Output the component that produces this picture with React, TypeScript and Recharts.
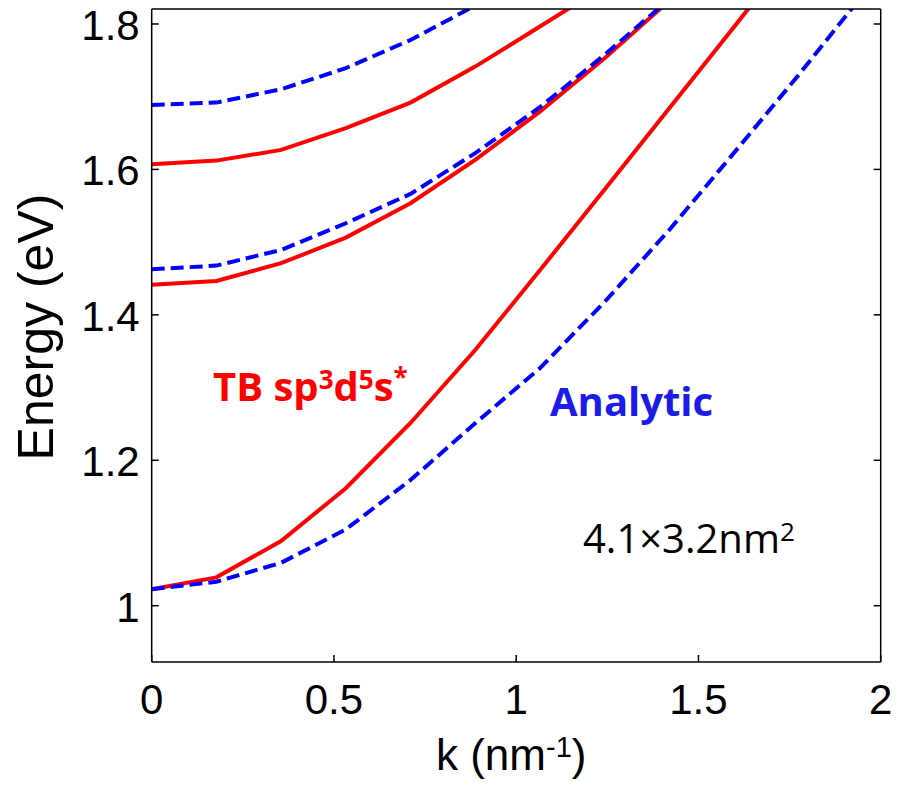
import React from "react";
import { LineChart, Line, XAxis, YAxis, Label } from "recharts";

// wave vector samples (nm^-1)
const kValues = [0, 0.1775, 0.355, 0.5325, 0.71, 0.8875, 1.065, 1.2425, 1.42, 1.5975, 1.775, 1.9525];

// TB sp3d5s* bands (eV)
const tbBand1 = [1.0226, 1.039, 1.089, 1.1615, 1.2513, 1.3517, 1.4612, 1.5725, 1.684, 1.796, 1.908];
const tbBand2 = [1.4415, 1.4466, 1.471, 1.5062, 1.5535, 1.613, 1.6795, 1.7528, 1.832];
const tbBand3 = [1.6071, 1.6121, 1.6268, 1.6567, 1.6919, 1.7414, 1.7965, 1.852];

// analytic bands (eV)
const anBand1 = [1.0226, 1.033, 1.059, 1.105, 1.1728, 1.2509, 1.3266, 1.4178, 1.5168, 1.6227, 1.73, 1.8412];
const anBand2 = [1.4627, 1.4677, 1.4893, 1.526, 1.5663, 1.6223, 1.6856, 1.7575, 1.834];
const anBand3 = [1.6887, 1.6919, 1.7103, 1.7392, 1.778, 1.8253, 1.88];

const xTicks = [0, 0.5, 1, 1.5, 2];
const yTicks = [1, 1.2, 1.4, 1.6, 1.8];

const toPoints = (vals: number[]) => vals.map((e, i) => ({ k: kValues[i], e }));

const AXIS_FONT = "'Liberation Sans', Arial, sans-serif";
const NOTE_FONT = "'Open Sans', sans-serif";
const RED = "#ff0000";
const BLUE = "#0000ff";

function BottomTick({ x, y, payload }: any) {
  return (
    <g>
      <line x1={x} x2={x} y1={y} y2={y - 7} stroke="#000" strokeWidth={1.5} />
      <text x={x} y={y + 52} textAnchor="middle" fontSize={42} fontFamily={AXIS_FONT} fill="#000">
        {String(payload.value)}
      </text>
    </g>
  );
}

function TopTick({ x, y }: any) {
  return <line x1={x} x2={x} y1={y} y2={y + 7} stroke="#000" strokeWidth={1.5} />;
}

function LeftTick({ x, y, payload }: any) {
  return (
    <g>
      <line x1={x} x2={x + 7} y1={y} y2={y} stroke="#000" strokeWidth={1.5} />
      <text x={x - 12} y={y + 16} textAnchor="end" fontSize={42} fontFamily={AXIS_FONT} fill="#000">
        {String(payload.value)}
      </text>
    </g>
  );
}

function RightTick({ x, y }: any) {
  return <line x1={x} x2={x - 7} y1={y} y2={y} stroke="#000" strokeWidth={1.5} />;
}

function XLabel({ viewBox }: any) {
  const cx = viewBox.x + viewBox.width / 2 - 5;
  return (
    <text x={cx} y={770} textAnchor="middle" fontSize={44} fontFamily={AXIS_FONT} fill="#000">
      k (nm
      <tspan fontSize={29} dy={-13}>-1</tspan>
      <tspan dy={13}>)</tspan>
    </text>
  );
}

function YLabel() {
  return (
    <text
      x={53}
      y={327}
      transform="rotate(-90, 53, 327)"
      textAnchor="middle"
      fontSize={50}
      fontFamily={AXIS_FONT}
      fill="#000"
    >
      Energy (eV)
    </text>
  );
}

export default function App() {
  const axisLine = { stroke: "#000", strokeWidth: 1.5 };
  const tb = [tbBand1, tbBand2, tbBand3];
  const an = [anBand1, anBand2, anBand3];

  return (
    <div style={{ position: "absolute", left: 0, top: 0, width: 904, height: 788, background: "#fff" }}>
      <LineChart width={904} height={788} margin={{ top: 0, right: 0, bottom: 0, left: 0 }}>
        <XAxis
          xAxisId="b"
          type="number"
          dataKey="k"
          orientation="bottom"
          domain={[0, 2]}
          ticks={xTicks}
          interval={0}
          height={126}
          tickSize={0}
          tickMargin={0}
          tickLine={false}
          axisLine={axisLine}
          tick={<BottomTick />}
        >
          <Label content={<XLabel />} />
        </XAxis>
        <XAxis
          xAxisId="t"
          type="number"
          orientation="top"
          domain={[0, 2]}
          ticks={xTicks}
          interval={0}
          height={9}
          tickSize={0}
          tickMargin={0}
          tickLine={false}
          axisLine={axisLine}
          tick={<TopTick />}
        />
        <YAxis
          yAxisId="l"
          type="number"
          orientation="left"
          domain={[0.9226, 1.8206]}
          allowDataOverflow
          ticks={yTicks}
          interval={0}
          width={151.7}
          tickSize={0}
          tickMargin={0}
          tickLine={false}
          axisLine={axisLine}
          tick={<LeftTick />}
        >
          <Label content={<YLabel />} />
        </YAxis>
        <YAxis
          yAxisId="r"
          type="number"
          orientation="right"
          domain={[0.9226, 1.8206]}
          allowDataOverflow
          ticks={yTicks}
          interval={0}
          width={23.3}
          tickSize={0}
          tickMargin={0}
          tickLine={false}
          axisLine={axisLine}
          tick={<RightTick />}
        />
        {tb.map((band, i) => (
          <Line
            key={"tb" + i}
            xAxisId="b"
            yAxisId="l"
            data={toPoints(band)}
            dataKey="e"
            type="linear"
            stroke={RED}
            strokeWidth={4}
            dot={false}
            isAnimationActive={false}
          />
        ))}
        {an.map((band, i) => (
          <Line
            key={"an" + i}
            xAxisId="b"
            yAxisId="l"
            data={toPoints(band)}
            dataKey="e"
            type="linear"
            stroke={BLUE}
            strokeWidth={4}
            strokeDasharray="13 6"
            dot={false}
            isAnimationActive={false}
          />
        ))}
      </LineChart>
      <svg
        width={904}
        height={788}
        style={{ position: "absolute", left: 0, top: 0, pointerEvents: "none" }}
      >
        <text x={213} y={401} fontSize={40} fontWeight="bold" fontFamily={NOTE_FONT} fill={RED}>
          TB sp
          <tspan fontSize={26} dy={-12}>3</tspan>
          <tspan dy={12}>d</tspan>
          <tspan fontSize={26} dy={-12}>5</tspan>
          <tspan dy={12}>s</tspan>
          <tspan fontSize={26} dy={-14}>*</tspan>
        </text>
        <text x={550} y={416} fontSize={40} fontWeight="bold" fontFamily={NOTE_FONT} fill="#1c1ce8">
          Analytic
        </text>
        <text x={583} y={553} fontSize={40} fontFamily={NOTE_FONT} fill="#000">
          4.1×3.2nm
          <tspan fontSize={26} dy={-12}>2</tspan>
        </text>
      </svg>
    </div>
  );
}
